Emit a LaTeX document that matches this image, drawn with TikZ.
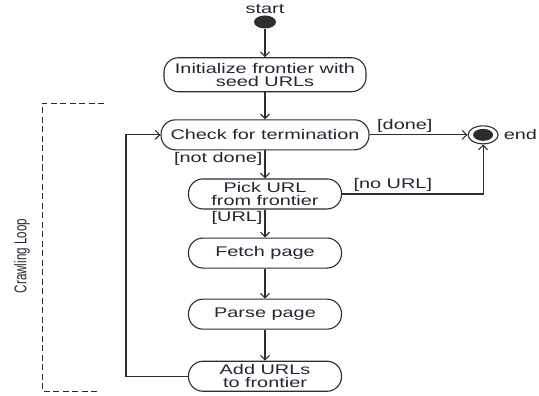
\documentclass[tikz,border=0pt]{standalone}
\usepackage{fontspec}
\setmainfont{Liberation Sans}[FakeStretch=1.42]
\newfontfamily\loopfont{Liberation Sans}
\usetikzlibrary{arrows.meta,positioning,shapes.geometric}
\definecolor{crawlInk}{RGB}{35,38,52}
\definecolor{crawlLine}{RGB}{45,45,45}

\begin{document}
\begin{tikzpicture}[
    node distance=28pt,
    box/.style={draw=crawlLine, line width=1.1pt, rounded corners=14.5pt, align=center, font=\fontsize{14}{13}\selectfont, text=crawlInk, inner sep=1.5pt, minimum width=153pt, minimum height=30pt},
    startdot/.style={ellipse, fill=crawlLine, minimum width=22pt, minimum height=13pt, inner sep=0pt},
    enddot/.style={ellipse, draw=crawlLine, line width=1.1pt, minimum width=30pt, minimum height=18pt, inner sep=0pt},
    guard/.style={font=\fontsize{14}{13}\selectfont, text=crawlInk, inner sep=2pt},
    arrow/.style={-{Straight Barb[length=4.5pt, width=9pt]}, line width=1.1pt, crawlLine},
    bracket/.style={dash pattern=on 6pt off 3.5pt, line width=0.9pt, crawlLine}
  ]
    \useasboundingbox (0,0) rectangle (539pt,-396pt);
    \node[startdot, label={[guard, inner sep=1pt]above:start}] (start) at (265pt,-22pt) {};
    \node[box, minimum width=202pt, minimum height=34pt, below=28.5pt of start] (init) {Initialize frontier with\\seed URLs};
    \node[box, minimum width=208pt, below=27pt of init] (check) {Check for termination};
    \node[box, below=of check] (pick) {Pick URL\\from frontier};
    \node[box, below=of pick] (fetch) {Fetch page};
    \node[box, below=30pt of fetch] (parse) {Parse page};
    \node[box, below=31pt of parse] (add) {Add URLs\\to frontier};
    \node[enddot, right=98pt of check, label={[guard, xshift=3pt]right:end}] (end) {};
    \fill[crawlLine] (end.center) ellipse (10pt and 6pt);
    % crawling loop bracket
    \coordinate (loopTop) at (42pt,-103pt);
    \coordinate (loopBottom) at (42pt,-391pt);
    \draw[bracket] ([xshift=62pt]loopTop) -- (loopTop) -- (loopBottom) -- ([xshift=58pt]loopBottom);
    \node[guard, font=\loopfont\fontsize{11.6}{13}\selectfont, rotate=90] (looptext) at (22pt,-256pt) {\scalebox{1}[1.47]{Crawling Loop}};
    \draw[arrow] (start) -- (init);
    \draw[arrow] (init) -- (check);
    \draw[arrow] (check) -- node[guard, left, pos=0.32] {[not done]} (pick);
    \draw[arrow] (pick) -- node[guard, left, pos=0.3] {[URL]} (fetch);
    \draw[arrow] (fetch) -- (parse);
    \draw[arrow] (parse) -- (add);
    \draw[arrow] (check) -- node[guard, above, pos=0.36] {[done]} (end);
    \draw[arrow] (pick) -| node[guard, above, pos=0.18] {[no URL]} (end);
    \draw[arrow] (add.west) -- ++(-62pt,0) |- (check.west);
  \end{tikzpicture}
\end{document}
